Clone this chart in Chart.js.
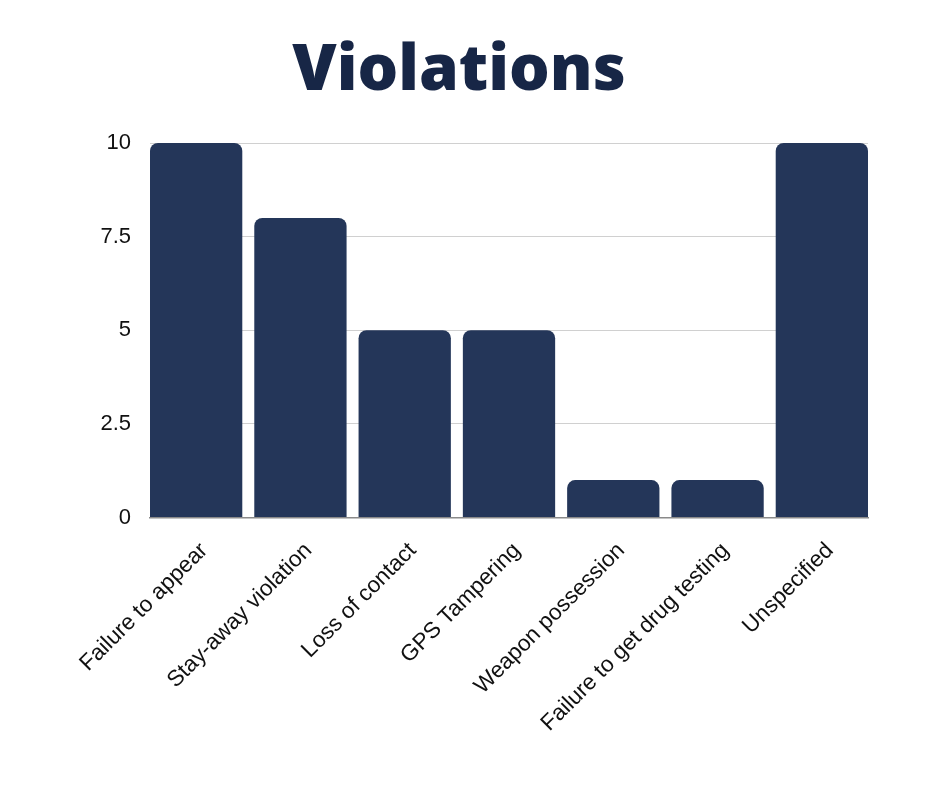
<!DOCTYPE html>
<html>
<head>
<meta charset="utf-8">
<script src="https://cdn.jsdelivr.net/npm/chart.js@4/dist/chart.umd.min.js"></script>
<style>
  html, body { margin: 0; padding: 0; background: #fff; }
  #wrap { position: relative; width: 940px; height: 788px; }
  #title {
    position: absolute; left: 0; width: 918px; top: 22px;
    text-align: center; font-family: 'Open Sans', sans-serif; font-weight: 800;
    font-size: 64px; color: #172646; line-height: 88px;
  }
</style>
</head>
<body>
<div id="wrap">
  <div id="title">Violations</div>
  <canvas id="barChart" width="940" height="788"></canvas>
</div>
<script>
const categories = ['Failure to appear', 'Stay-away violation', 'Loss of contact', 'GPS Tampering',
  'Weapon possession', 'Failure to get drug testing', 'Unspecified'];
const violations = [10, 8, 5, 5, 1, 1, 10];
const yTicks = [0, 2.5, 5, 7.5, 10];

(function() {
    const ctx = document.getElementById('barChart');
    // bars sit flush with the plot edges, so use a numeric x axis (one unit per category)
    const barShare = 0.885;
    const edge = barShare / 2;

    new Chart(ctx, {
        type: 'bar',
        data: {
            datasets: [
                {
                    label: 'Violations',
                    data: violations.map((v, i) => ({ x: i, y: v })),
                    backgroundColor: '#243659',
                    borderRadius: 8,
                    borderSkipped: 'start',
                    barPercentage: barShare,
                    categoryPercentage: 1.0
                }
            ]
        },
        options: {
            responsive: false,
            animation: false,
            layout: {
                padding: { left: 86, right: 72, top: 143, bottom: 31 }
            },
            plugins: {
                legend: { display: false },
                title: { display: false },
                tooltip: { enabled: false }
            },
            scales: {
                y: {
                    min: yTicks[0],
                    max: yTicks[yTicks.length - 1],
                    afterBuildTicks: function(axis) {
                        axis.ticks = yTicks.map(v => ({ value: v }));
                    },
                    afterFit: function(axis) {
                        axis.width = 64;
                    },
                    ticks: {
                        color: '#111',
                        padding: 19,
                        font: { family: 'Liberation Sans, Arial', size: 22 }
                    },
                    grid: {
                        color: '#d0d0d0',
                        drawTicks: false
                    },
                    border: { display: false }
                },
                x: {
                    type: 'linear',
                    offset: false,
                    min: -edge,
                    max: categories.length - 1 + edge,
                    afterBuildTicks: function(axis) {
                        axis.ticks = categories.map((c, i) => ({ value: i }));
                    },
                    grid: { display: false, drawTicks: false },
                    border: { display: true, color: '#8a8a8a', width: 1.5 },
                    ticks: {
                        color: '#111',
                        autoSkip: false,
                        maxRotation: 45,
                        minRotation: 45,
                        padding: 20,
                        labelOffset: 8,
                        callback: function(value) {
                            return categories[value];
                        },
                        font: { family: 'Liberation Sans, Arial', size: 22.5 }
                    }
                }
            }
        }
    });
})();
</script>
</body>
</html>
